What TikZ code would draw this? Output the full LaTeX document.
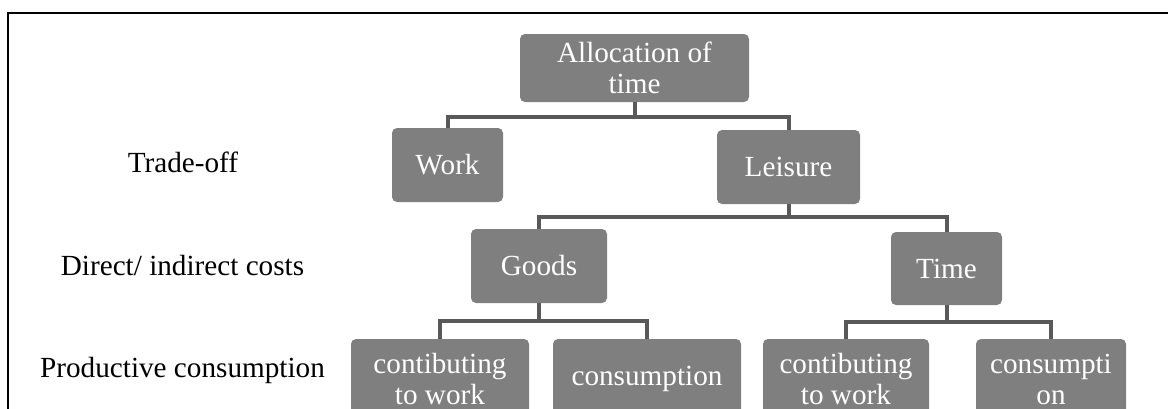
\documentclass[tikz,border=0pt]{standalone}
\usepackage{fontspec}
\setmainfont{Liberation Serif}
\definecolor{BoxGray}{HTML}{7F7F7F}
\definecolor{LinkGray}{HTML}{595959}

\begin{document}
\begin{tikzpicture}[x=0.5pt,y=-0.5pt,
			every node/.style={font=\fontsize{14.6}{15.5}\selectfont},
			box/.style={fill=BoxGray,text=white,rounded corners=2.5pt,align=center,inner sep=0pt,minimum height=37pt},
			link/.style={draw=LinkGray,line width=2pt}
		]
			\useasboundingbox (0,0) rectangle (1168,408);
			\clip (0,0) rectangle (1168,408);
			\draw[line width=1pt] (8,420) -- (8,12.5) -- (1180,12.5);

			\node (alloc) [box,minimum width=114.5pt,minimum height=34pt] at (634.5,68) {Allocation of\\time};
			\node (work) [box,minimum width=55.5pt] at (447.5,165) {Work};
			\node (leisure) [box,minimum width=71.5pt] at (788.5,167) {Leisure};
			\node (goods) [box,minimum width=68pt] at (539,266) {Goods};
			\node (time) [box,minimum width=55.5pt,minimum height=36.5pt] at (946.5,268.5) {Time};
			\node (goodsWork) [box,minimum width=89pt,minimum height=40pt] at (440,379) {contibuting\\to work};
			\node (goodsCons) [box,minimum width=94pt,minimum height=40pt] at (647,379) {consumption};
			\node (timeWork) [box,minimum width=83pt,minimum height=40pt] at (846,379) {contibuting\\to work};
			\node (timeCons) [box,minimum width=75pt,minimum height=40pt] at (1051,379) {consumpti\\on};

			\node (tradeoff) [anchor=base] at (183,172.5) {Trade-off};
			\node (costs) [anchor=base] at (182.5,275) {Direct/ indirect costs};
			\node (productive) [anchor=base] at (182.5,377) {Productive consumption};

			\draw[link] (alloc.south) -- ++(0,15) -| (work.north);
			\draw[link] (alloc.south) -- ++(0,15) -| (leisure.north);
			\draw[link] (leisure.south) -- ++(0,13) -| (goods.north);
			\draw[link] (leisure.south) -- ++(0,13) -| (time.north);
			\draw[link] (goods.south) -- ++(0,18) -| (goodsWork.north);
			\draw[link] (goods.south) -- ++(0,18) -| (goodsCons.north);
			\draw[link] (time.south) -- ++(0,17) -| (timeWork.north);
			\draw[link] (time.south) -- ++(0,17) -| (timeCons.north);
		\end{tikzpicture}
\end{document}
